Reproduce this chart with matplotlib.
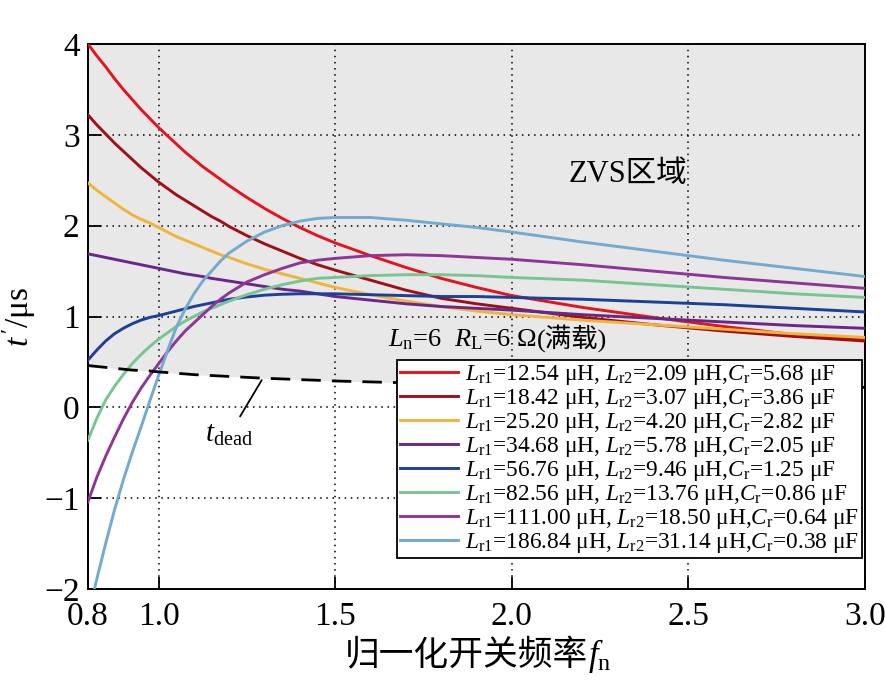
import numpy as np
import matplotlib
matplotlib.use("Agg")
import matplotlib.pyplot as plt

plt.rcParams['font.family'] = ['Liberation Serif', 'Noto Sans CJK SC']
plt.rcParams['mathtext.fontset'] = 'custom'
plt.rcParams['mathtext.rm'] = 'Liberation Serif'
plt.rcParams['mathtext.it'] = 'Liberation Serif:italic'
plt.rcParams['axes.unicode_minus'] = True

# normalised switching frequency
fn = [0.8, 0.825, 0.85, 0.875, 0.9, 0.925, 0.95, 0.975, 1.0, 1.025, 1.05,
      1.075, 1.1, 1.125, 1.15, 1.175, 1.2, 1.25, 1.3, 1.35, 1.4, 1.45, 1.5,
      1.6, 1.7, 1.8, 1.9, 2.0, 2.2, 2.4, 2.6, 2.8, 3.0]

# t' (us) for each resonant parameter set
t_red = [4.0, 3.87, 3.75, 3.62, 3.5, 3.39, 3.28, 3.18, 3.08, 2.99, 2.9,
         2.81, 2.73, 2.65, 2.58, 2.51, 2.44, 2.31, 2.19, 2.08, 1.98, 1.89, 1.81,
         1.67, 1.54, 1.42, 1.32, 1.23, 1.1, 0.99, 0.89, 0.8, 0.74]
t_darkred = [3.22, 3.11, 3.01, 2.91, 2.82, 2.73, 2.64, 2.56, 2.48, 2.41, 2.34,
             2.28, 2.22, 2.16, 2.1, 2.05, 1.99, 1.89, 1.8, 1.72, 1.64, 1.57, 1.51,
             1.4, 1.29, 1.2, 1.14, 1.09, 0.99, 0.91, 0.84, 0.78, 0.73]
t_orange = [2.47, 2.39, 2.32, 2.25, 2.18, 2.12, 2.07, 2.03, 1.98, 1.93, 1.88,
            1.84, 1.8, 1.76, 1.72, 1.68, 1.65, 1.58, 1.52, 1.47, 1.42, 1.37, 1.32,
            1.24, 1.17, 1.11, 1.06, 1.02, 0.96, 0.91, 0.86, 0.81, 0.77]
t_purple = [1.69, 1.67, 1.65, 1.63, 1.61, 1.59, 1.57, 1.55, 1.53, 1.51, 1.49,
            1.47, 1.455, 1.44, 1.42, 1.405, 1.39, 1.36, 1.33, 1.3, 1.28, 1.25, 1.22,
            1.18, 1.14, 1.11, 1.09, 1.07, 1.02, 0.98, 0.94, 0.9, 0.87]
t_blue = [0.52, 0.63, 0.73, 0.81, 0.87, 0.92, 0.96, 0.99, 1.01, 1.035, 1.06,
          1.085, 1.11, 1.13, 1.15, 1.17, 1.19, 1.215, 1.235, 1.245, 1.25, 1.25, 1.25,
          1.24, 1.23, 1.22, 1.22, 1.21, 1.19, 1.16, 1.13, 1.09, 1.05]
t_green = [-0.36, -0.12, 0.08, 0.23, 0.36, 0.48, 0.58, 0.67, 0.75, 0.82, 0.89,
           0.95, 1.0, 1.05, 1.09, 1.13, 1.17, 1.24, 1.3, 1.35, 1.39, 1.42, 1.43,
           1.45, 1.46, 1.46, 1.45, 1.43, 1.4, 1.35, 1.3, 1.25, 1.21]
t_magenta = [-1.04, -0.77, -0.54, -0.33, -0.13, 0.05, 0.21, 0.35, 0.48, 0.61, 0.73,
             0.84, 0.93, 1.02, 1.11, 1.19, 1.26, 1.38, 1.46, 1.53, 1.59, 1.62, 1.64,
             1.67, 1.68, 1.67, 1.65, 1.63, 1.57, 1.5, 1.43, 1.37, 1.31]
t_ltblue = [-2.3, -1.89, -1.5, -1.13, -0.8, -0.5, -0.22, 0.07, 0.35, 0.62, 0.88,
            1.08, 1.25, 1.39, 1.5, 1.61, 1.7, 1.83, 1.93, 2.0, 2.05, 2.08, 2.09,
            2.09, 2.06, 2.02, 1.98, 1.93, 1.82, 1.72, 1.62, 1.53, 1.44]
t_dead = [0.46, 0.45, 0.44, 0.43, 0.42, 0.41, 0.405, 0.4, 0.39, 0.383, 0.375,
          0.368, 0.36, 0.355, 0.35, 0.345, 0.34, 0.33, 0.32, 0.313, 0.305, 0.298, 0.29,
          0.28, 0.27, 0.26, 0.255, 0.25, 0.245, 0.24, 0.23, 0.225, 0.22]

labels = [
    r'$L_{\mathrm{r1}}$=12.54 μH, $L_{\mathrm{r2}}$=2.09 μH,$C_{\mathrm{r}}$=5.68 μF',
    r'$L_{\mathrm{r1}}$=18.42 μH, $L_{\mathrm{r2}}$=3.07 μH,$C_{\mathrm{r}}$=3.86 μF',
    r'$L_{\mathrm{r1}}$=25.20 μH, $L_{\mathrm{r2}}$=4.20 μH,$C_{\mathrm{r}}$=2.82 μF',
    r'$L_{\mathrm{r1}}$=34.68 μH, $L_{\mathrm{r2}}$=5.78 μH,$C_{\mathrm{r}}$=2.05 μF',
    r'$L_{\mathrm{r1}}$=56.76 μH, $L_{\mathrm{r2}}$=9.46 μH,$C_{\mathrm{r}}$=1.25 μF',
    r'$L_{\mathrm{r1}}$=82.56 μH, $L_{\mathrm{r2}}$=13.76 μH,$C_{\mathrm{r}}$=0.86 μF',
    r'$L_{\mathrm{r1}}$=111.00 μH, $L_{\mathrm{r2}}$=18.50 μH,$C_{\mathrm{r}}$=0.64 μF',
    r'$L_{\mathrm{r1}}$=186.84 μH, $L_{\mathrm{r2}}$=31.14 μH,$C_{\mathrm{r}}$=0.38 μF',
]
series = [t_red, t_darkred, t_orange, t_purple, t_blue, t_green, t_magenta, t_ltblue]
colors = ['#e3141c', '#9e1018', '#f0b43a', '#69278a', '#1c3f98',
          '#78c493', '#8e3597', '#74aacd']

fig = plt.figure(figsize=(8.85, 6.95), dpi=100)
ax = fig.add_axes([0.0994, 0.1525, 0.878, 0.7842])

# ZVS region shading above dead time
ax.fill_between(fn, t_dead, 4, color='#e8e8e8', zorder=0, lw=0)

for y in [-1, 0, 1, 2, 3]:
    ax.axhline(y, color='black', ls=(0, (1, 3)), lw=1.1, zorder=1)
for x in [1.0, 1.5, 2.0, 2.5]:
    ax.axvline(x, color='black', ls=(0, (1, 3)), lw=1.1, zorder=1)

for t, c, lab in zip(series, colors, labels):
    ax.plot(fn, t, color=c, lw=2.1, label=lab, zorder=3)

ax.plot(fn, t_dead, color='black', lw=2.0, ls=(0, (7, 4)), zorder=3)

ax.set_xlim(0.8, 3.0)
ax.set_ylim(-2, 4)
ax.set_xticks([0.8, 1.0, 1.5, 2.0, 2.5, 3.0])
ax.set_xticklabels(['0.8', '1.0', '1.5', '2.0', '2.5', '3.0'])
ax.set_yticks([-2, -1, 0, 1, 2, 3, 4])
ax.tick_params(direction='in', length=9, width=1.3, labelsize=24,
               top=False, right=False)
ax.tick_params(axis='x', pad=9)
ax.tick_params(axis='y', pad=6)
for s in ax.spines.values():
    s.set_linewidth(1.4)

# x label: CJK part and math part drawn separately, on one baseline
fig.text(0.664, 0.043, '归一化开关频率', fontsize=25, ha='right', va='baseline')
fig.text(0.664, 0.043, r'$f_{\mathrm{n}}$', fontsize=25, ha='left', va='baseline')
ax.set_ylabel(r"$t\,'$/μs", fontsize=24, labelpad=4)

ax.text(2.33, 2.56, 'ZVS区域', fontsize=22, ha='center', va='center', zorder=4)
ln = ax.text(1.65, 0.67, r'$L_{\mathrm{n}}$=6  $R_{\mathrm{L}}$=6 Ω', fontsize=19,
             ha='left', va='baseline', zorder=4)
ax.annotate('(满载)', xy=(1.0, 0.67), xycoords=(ln, 'data'), fontsize=19,
            ha='left', va='baseline', zorder=4)

ax.annotate(r'$t_{\mathrm{dead}}$', xy=(1.292, 0.3), xytext=(1.2, -0.3),
            fontsize=21, ha='center', va='center',
            arrowprops=dict(arrowstyle='-', color='black', lw=1.3,
                            shrinkA=2, shrinkB=0))

leg = ax.legend(loc='lower right', bbox_to_anchor=(0.996, 0.057), fontsize=16.8,
                frameon=True, fancybox=False, edgecolor='black', framealpha=1,
                handlelength=2.5, handletextpad=0.3, labelspacing=0.0,
                borderpad=0.12, borderaxespad=0)
leg.get_frame().set_linewidth(1.3)
leg.set_zorder(5)

fig.savefig('out.png', dpi=100)
